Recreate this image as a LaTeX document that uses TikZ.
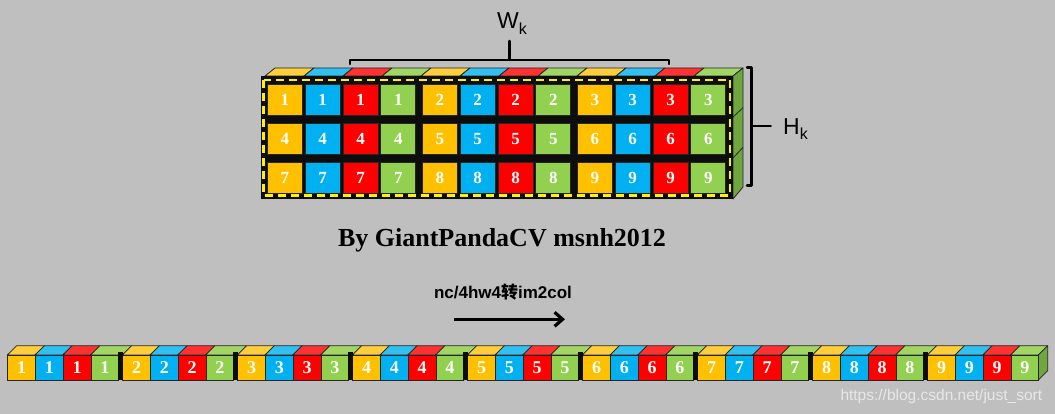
\documentclass[tikz,border=0pt]{standalone}
\usepackage{fontspec}
\setmainfont{Liberation Serif}
\setsansfont{Liberation Sans}
\newfontfamily\cjkfont{Noto Sans CJK SC}
\usetikzlibrary{arrows.meta}

\definecolor{bggray}{RGB}{191,191,191}
\definecolor{corange}{RGB}{255,192,0}
\definecolor{cblue}{RGB}{0,176,240}
\definecolor{cred}{RGB}{255,0,0}
\definecolor{cgreen}{RGB}{146,208,80}
\definecolor{torange}{RGB}{255,206,60}
\definecolor{tblue}{RGB}{50,192,240}
\definecolor{tred}{RGB}{255,50,50}
\definecolor{tgreen}{RGB}{162,214,100}
\definecolor{sgreen}{RGB}{112,166,62}
\definecolor{wmark}{RGB}{232,232,232}

\tikzset{
  cell/.style={draw=black!85, line width=0.8pt, inner sep=0pt, anchor=north west,
    text=white, font=\fontsize{17}{17}\selectfont\bfseries},
  face/.style={draw=black!85, line width=0.8pt, line join=round},
  brace/.style={line width=2.5pt, line cap=round, line join=round},
}
\newcommand\subk[1]{\raisebox{#1}{\fontsize{16}{16}\selectfont k}}

\begin{document}
\begin{tikzpicture}[x=1pt,y=-1pt]
  \useasboundingbox (0,0) rectangle (1055,414);
  \fill[bggray] (0,0) rectangle (1055,414);

  % kernel block
  \foreach \g in {0,1,2} {
    \foreach \k/\col in {0/orange,1/blue,2/red,3/green} {
      \pgfmathsetmacro\xa{265+(4*\g+\k)*39}
      \filldraw[face, fill=t\col] (\xa,76) -- (\xa+10,68) -- (\xa+49,68) -- (\xa+39,76) -- cycle;
    }
  }
  \filldraw[face, fill=sgreen] (733,76) -- (743,68) -- (743,187) -- (733,199) -- cycle;
  \foreach \t in {1,2}
    \draw[black!85, line width=0.8pt] (733,{76+\t*41}) -- (743,{68+\t*39.7});
  \fill[black!95] (261,76) rectangle (733,199);
  \foreach \r in {0,1,2} {
    \foreach \g in {0,1,2} {
      \foreach \k/\col in {0/orange,1/blue,2/red,3/green} {
        \pgfmathtruncatemacro\num{3*\r+\g+1}
        \node[cell, fill=c\col, minimum width=35pt, minimum height=31pt]
          (t-\r-\g-\k) at ({267+\g*155+\k*37.8},{84+\r*39.2}) {\num};
      }
    }
  }
  \draw[yellow, line width=2.5pt, dash pattern=on 8pt off 5pt] (263.5,80) rectangle (730,195.5);

  % braces
  \draw[brace] (350,64) -- (350,60) -- (669,60) -- (669,64);
  \draw[brace] (509.5,60) -- (509.5,41);
  \node[anchor=base, font=\sffamily\fontsize{23}{23}\selectfont] (wk) at (512,28.3) {W\subk{-6.5pt}};
  \draw[brace] (747,67.5) -- (751.7,67.5) -- (751.7,185.7) -- (747,185.7);
  \draw[brace] (751.7,126) -- (770.7,126);
  \node[anchor=base west, inner sep=0pt, font=\sffamily\fontsize{23}{23}\selectfont] (hk) at (783,135) {H\subk{-5pt}};

  \node[anchor=base, font=\fontsize{26}{26}\selectfont\bfseries] (credit) at (502,246.7) {By GiantPandaCV msnh2012};
  \node[anchor=base, font=\sffamily\fontsize{17}{17}\selectfont\bfseries] (title) at (503,298.3) {nc/4hw4{\cjkfont 转}im2col};
  \coordinate (arrS) at (454,319.3);
  \coordinate (arrE) at (565,319.3);
  \draw[line width=3.2pt, -{Straight Barb[length=8pt,width=14pt]}] (arrS) -- (arrE);

  % im2col row
  \foreach \g in {0,...,8} {
    \foreach \k/\col in {0/orange,1/blue,2/red,3/green} {
      \pgfmathsetmacro\xa{7.3+\g*115+\k*27.75}
      \pgfmathsetmacro\wd{(\k==3 && \g<8) ? 31.75 : 27.75}
      \filldraw[face, fill=t\col] (\xa,355) -- (\xa+9.4,345.7) -- (\xa+9.4+\wd,345.7) -- (\xa+\wd,355) -- cycle;
    }
  }
  \filldraw[face, fill=sgreen] (1038.3,355) -- (1047.7,345.7) -- (1047.7,370.7) -- (1038.3,380) -- cycle;
  \foreach \g in {0,...,8} {
    \foreach \k/\col in {0/orange,1/blue,2/red,3/green} {
      \pgfmathtruncatemacro\num{\g+1}
      \node[cell, fill=c\col, minimum width=27.75pt, minimum height=25pt,
        font=\fontsize{18}{18}\selectfont\bfseries]
        (b-\g-\k) at ({7.3+\g*115+\k*27.75},355) {\num};
    }
  }
  \foreach \g in {1,...,8}
    \fill[black!95] ({7.3+\g*115-4.5},351.5) rectangle ({7.3+\g*115+1},380.4);

  \node[anchor=base, text=wmark, font=\sffamily\fontsize{15.5}{15.5}\selectfont] (url) at (941.3,400) {https://blog.csdn.net/just\_sort};
\end{tikzpicture}
\end{document}
